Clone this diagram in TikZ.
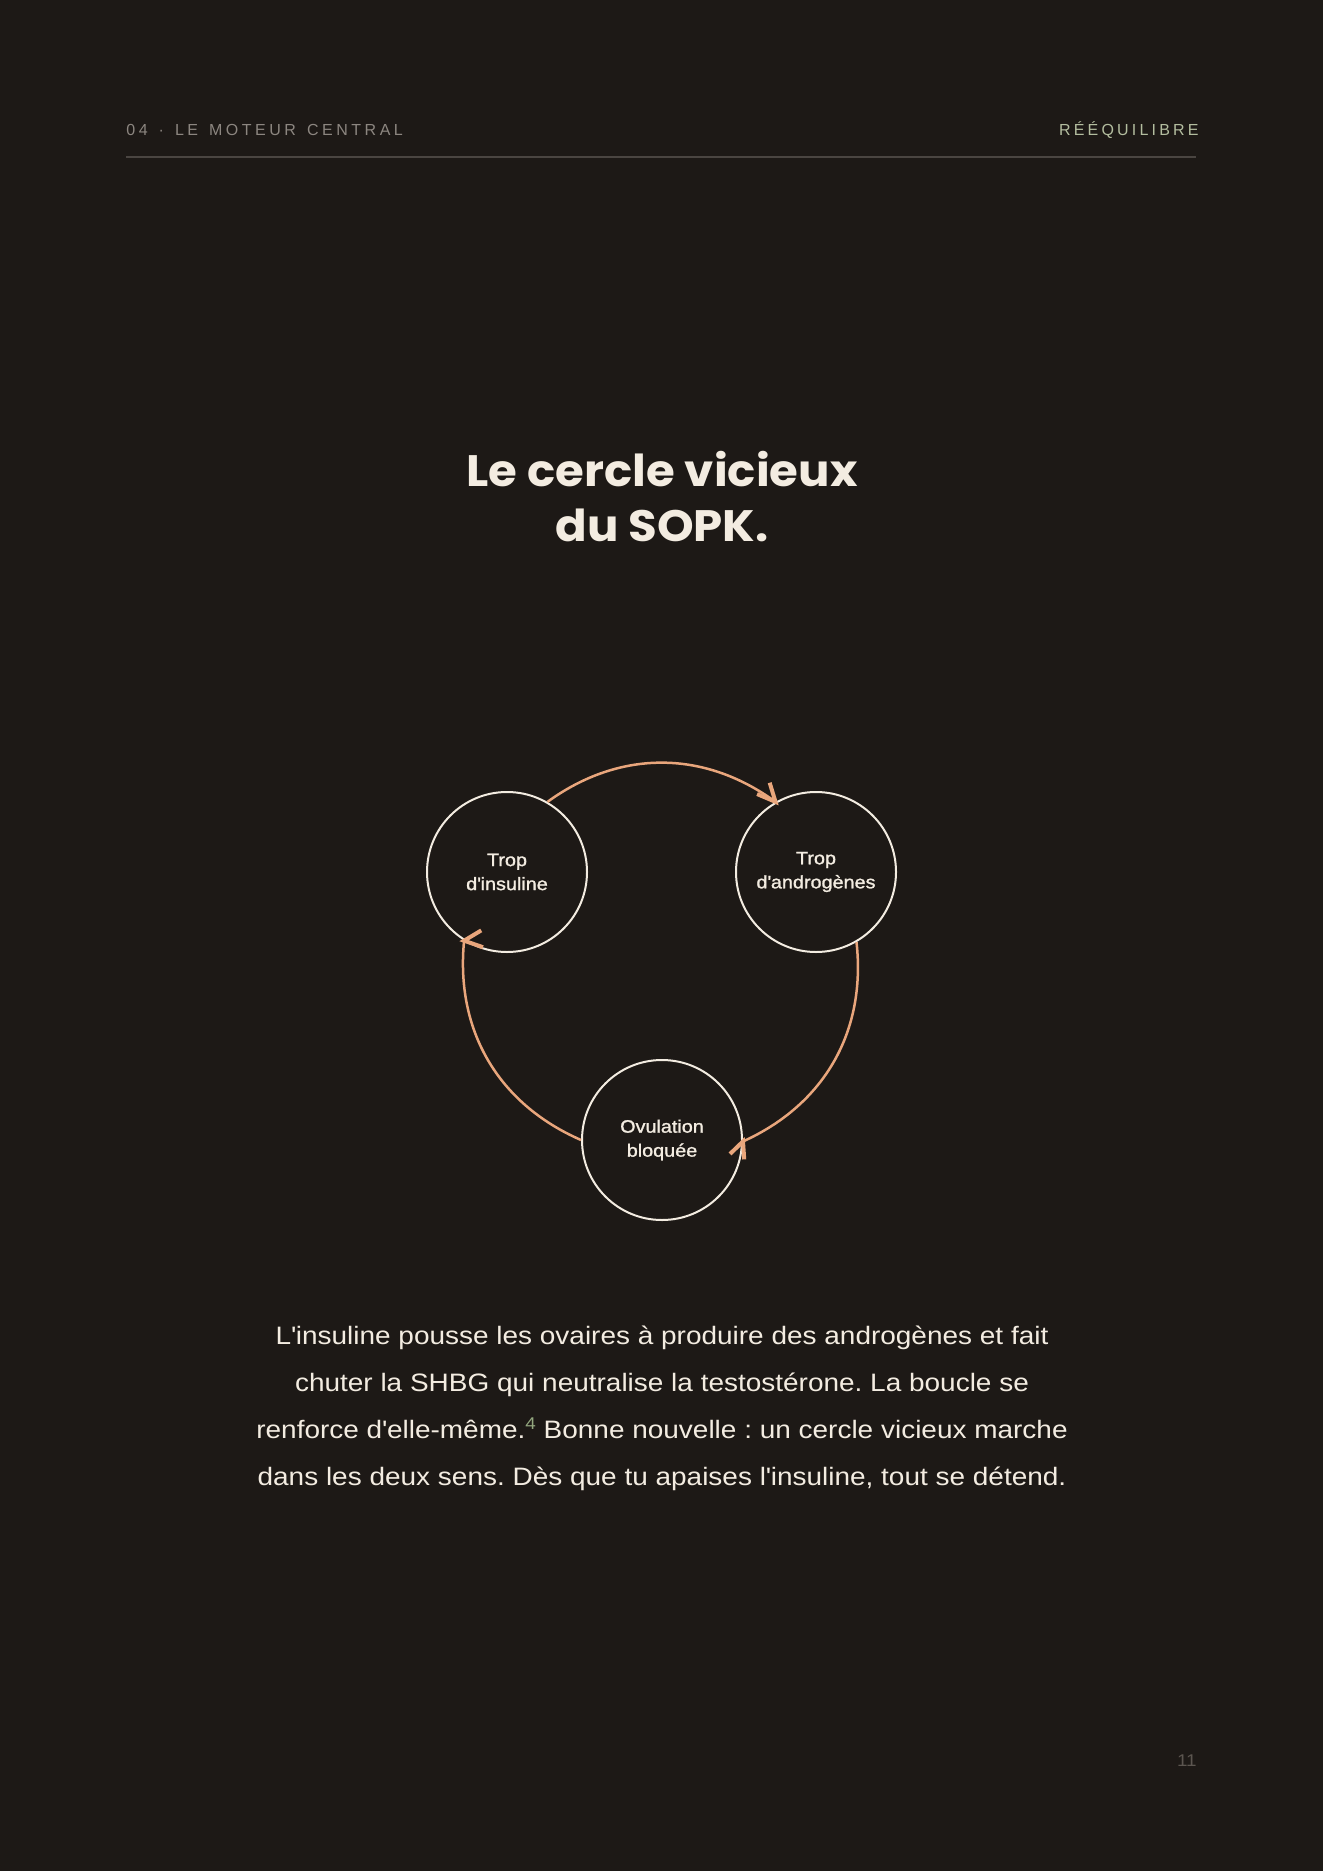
\documentclass[tikz,border=0pt]{standalone}
\usepackage{fontspec}
\setmainfont{Liberation Sans}[FakeStretch=1.11]
\newfontfamily\titlefont{Poppins}[FakeStretch=1.06]
\newfontfamily\headfont{Liberation Sans}[LetterSpace=22]
\newfontfamily\headfontr{Liberation Sans}[LetterSpace=20]
\newfontfamily\medfont{Liberation Sans}[FakeBold=1.3,FakeStretch=1.1]
\usetikzlibrary{arrows.meta}
\definecolor{bg}{HTML}{1D1916}
\definecolor{cream}{HTML}{F3ECE1}
\definecolor{peach}{HTML}{E9A67C}
\definecolor{headgray}{HTML}{8C8680}
\definecolor{sage}{HTML}{B3BD9F}
\definecolor{rulec}{HTML}{4A4541}
\definecolor{pagegray}{HTML}{5C5650}
\definecolor{supgreen}{HTML}{93A77F}
\newcommand\ap{\textquotesingle}
\newcommand\hgap{\hspace{5.5pt}}
\frenchspacing
\begin{document}
\begin{tikzpicture}[x=0.5pt,y=-0.5pt,
  state/.style={circle, draw=cream, line width=1pt, minimum size=80pt, inner sep=0pt,
    align=center, text=cream, font=\medfont\fontsize{9}{12}\selectfont},
  cyc/.style={draw=peach, line width=1.25pt},
  chev/.style={draw=peach, line width=2pt, line join=miter, line cap=butt},
  bodyline/.style={anchor=base, inner sep=0pt, text=cream, font=\fontsize{12.6}{15}\selectfont},
  titleline/.style={anchor=base, inner sep=0pt, text=cream, font=\titlefont\bfseries\fontsize{22}{26}\selectfont},
  headtext/.style={inner sep=0pt, font=\headfont\fontsize{8}{10}\selectfont},
  rule/.style={draw=rulec, line width=0.75pt}]
\fill[bg] (0,0) rectangle (1323,1871);
\useasboundingbox (0,0) rectangle (1323,1871);

% header
\node[headtext, anchor=base west, text=headgray] (hl) at (126,136) {04\hgap·\hgap LE\hgap MOTEUR\hgap CENTRAL};
\node[headtext, anchor=base east, text=sage, font=\headfontr\fontsize{8}{10}\selectfont] (hr) at (1199,136) {RÉÉQUILIBRE};
\coordinate (rl) at (126,157);
\coordinate (rr) at (1196,157);
\draw[rule] (rl) -- (rr);

% title
\node[titleline] (t1) at (662,487) {Le cercle vicieux};
\node[titleline] (t2) at (662,542) {du SOPK.};

% cycle
\node[state] (ins) at (507,872) {Trop\\d\ap insuline};
\node[state] (andr) at (816,872) {Trop\\d\ap androgènes};
\node[state] (ovu) at (662,1140) {Ovulation\\bloquée};

\draw[cyc] (ins.60) to[bend left=36] (andr.120);
\draw[cyc] (andr.-60) to[bend left=36] (ovu.-1);
\draw[cyc] (ovu.180) to[bend left=36] (ins.238);

% arrowheads
\draw[chev] (andr.120) ++(107:10pt) -- (andr.120) -- ++(157:10pt);
\draw[chev] (ovu.-1) ++(224:9pt) -- (ovu.-1) -- ++(274:9pt);
\draw[chev] (ins.238) ++(341:10pt) -- (ins.238) -- ++(31:10pt);

% body
\node[bodyline] (b1) at (662,1344) {L\ap insuline pousse les ovaires à produire des androgènes et fait};
\node[bodyline] (b2) at (662,1391) {chuter la SHBG qui neutralise la testostérone. La boucle se};
\node[bodyline] (b3) at (662,1438) {renforce d\ap elle-même.{\fontsize{8.5}{10}\selectfont\raisebox{4.5pt}{\color{supgreen}4}} Bonne nouvelle : un cercle vicieux marche};
\node[bodyline] (b4) at (662,1485) {dans les deux sens. Dès que tu apaises l\ap insuline, tout se détend.};

% page number
\node[anchor=base east, inner sep=0pt, text=pagegray, font=\fontsize{8.5}{10}\selectfont] (pg) at (1197,1766) {11};
\end{tikzpicture}
\end{document}
